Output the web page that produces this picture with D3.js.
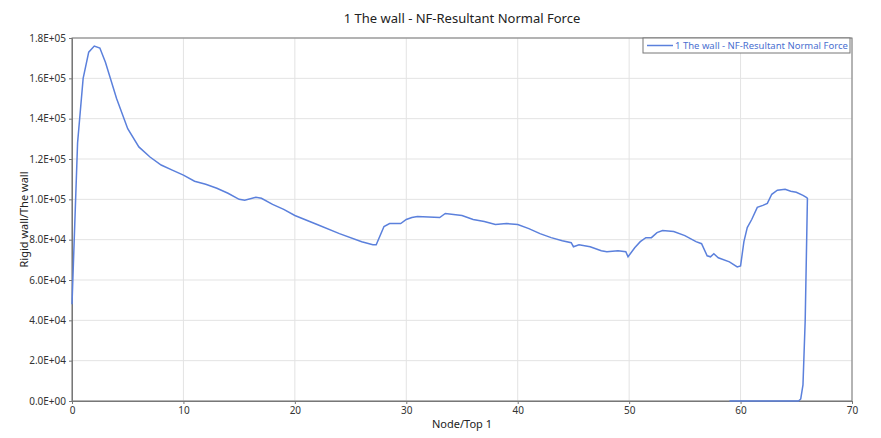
<!DOCTYPE html>
<html><head><meta charset="utf-8">
<script src="https://cdn.jsdelivr.net/npm/d3@7"></script>
<style>body{margin:0;background:#fff;font-family:"Noto Sans",sans-serif}</style>
</head><body><svg id="c" width="881" height="438"></svg>
<script>
const xs=[0,0.5,1,1.5,2,2.5,3,4,5,6,7,8,9,10,11,12,13,14,15,15.5,16.5,17,18,19,20,22,24,26,27,27.3,28,28.5,29.5,30,30.5,31,32,33,33.5,35,36,37,38,39,40,41,42,43,44,44.8,45,45.5,46.5,47.5,48,49,49.7,49.9,50.5,51,51.5,52,52.5,53,54,55,56,56.5,57,57.3,57.6,58,59,59.7,60,60.3,60.6,61,61.5,62,62.4,62.8,63.3,64,64.5,65,65.6,65.9,66,65.8,65.6,65.4,65.2,59];
const ys=[48000,128000,160000,173000,176000,175000,168000,150000,135000,126000,121000,117000,114500,112000,109000,107500,105500,103000,100000,99500,101000,100500,97500,95000,92000,87500,83000,79000,77500,77500,86500,88000,88000,90000,91000,91500,91300,91000,93000,92000,90000,89000,87500,88000,87500,85500,83000,81000,79500,78500,76500,77500,76500,74500,74000,74500,74000,71500,76000,79000,81000,81000,83500,84500,84000,82000,79000,78000,72000,71500,73000,71000,69000,66500,67000,79000,86000,90000,96000,97000,98000,102500,104500,105000,104000,103500,102000,101000,100500,40000,8000,1000,0,0];
const xTicks=[0,10,20,30,40,50,60,70];
const yTicks=[0,20000,40000,60000,80000,100000,120000,140000,160000,180000];
const title="1 The wall - NF-Resultant Normal Force";
const svg=d3.select("#c");
const L=72,R=852,T=38,B=401;
const x=d3.scaleLinear().domain([0,70]).range([L,R]);
const y=d3.scaleLinear().domain([0,180000]).range([B,T]);
const fmt=v=>{let s=v.toExponential(1).toUpperCase();return s.replace(/E([+-])(\d)$/,"E$10$2");};
svg.append("g").selectAll("line").data(xTicks).join("line").attr("x1",d=>x(d)).attr("x2",d=>x(d)).attr("y1",T).attr("y2",B).attr("stroke","#e3e3e3");
svg.append("g").selectAll("line").data(yTicks).join("line").attr("y1",d=>y(d)).attr("y2",d=>y(d)).attr("x1",L).attr("x2",R).attr("stroke","#e3e3e3");
svg.append("rect").attr("x",L).attr("y",T).attr("width",R-L).attr("height",B-T).attr("fill","none").attr("stroke","#777");
const ax=svg.append("g").attr("transform",`translate(0,${B})`).call(d3.axisBottom(x).tickValues(xTicks).tickSize(3));
const ay=svg.append("g").attr("transform",`translate(${L},0)`).call(d3.axisLeft(y).tickValues(yTicks).tickFormat(fmt).tickSize(3));
[ax,ay].forEach(a=>{a.select(".domain").attr("stroke","#777");a.selectAll("text").attr("font-size",10).attr("fill","#333").attr("font-family","Noto Sans");a.selectAll(".tick line").attr("stroke","#777");});
svg.append("path").datum(xs.map((v,i)=>[v,ys[i]])).attr("d",d3.line().x(d=>x(d[0])).y(d=>y(d[1]))).attr("fill","none").attr("stroke","#5b80dc").attr("stroke-width",1.5);
svg.append("text").attr("x",(L+R)/2).attr("y",23).attr("text-anchor","middle").attr("font-size",13).attr("fill","#222").text(title);
svg.append("text").attr("x",(L+R)/2).attr("y",428).attr("text-anchor","middle").attr("font-size",11).attr("fill","#222").text("Node/Top 1");
svg.append("text").attr("transform",`translate(28,${(T+B)/2}) rotate(-90)`).attr("text-anchor","middle").attr("font-size",11).attr("fill","#222").text("Rigid wall/The wall");
const lg=svg.append("g");
lg.append("rect").attr("x",643).attr("y",38).attr("width",207).attr("height",15).attr("fill","#fff").attr("stroke","#777");
lg.append("line").attr("x1",647).attr("x2",673).attr("y1",45.5).attr("y2",45.5).attr("stroke","#5b80dc").attr("stroke-width",1.5);
lg.append("text").attr("x",675).attr("y",49).attr("font-size",9.5).attr("fill","#4a6fd0").text(title);
</script></body></html>
